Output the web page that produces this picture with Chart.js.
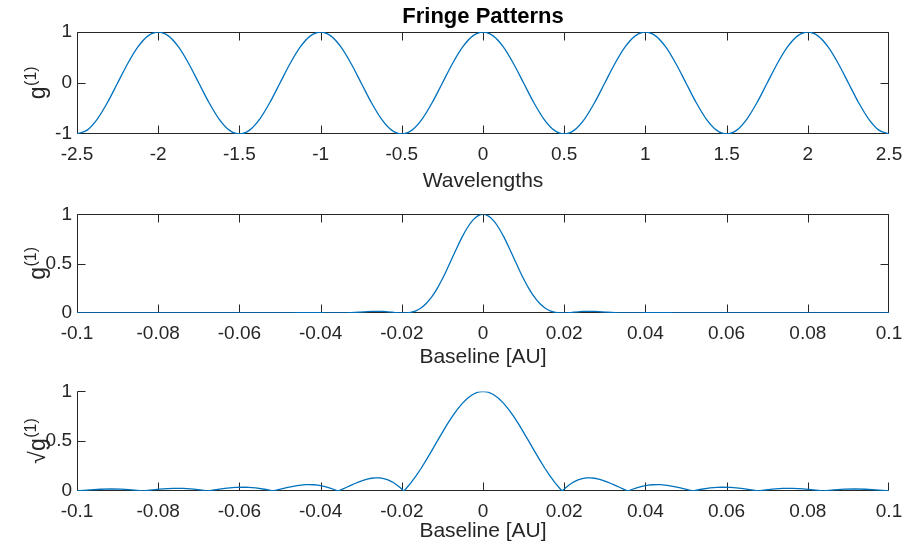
<!DOCTYPE html>
<html>
<head>
<meta charset="utf-8">
<script src="https://cdn.jsdelivr.net/npm/chart.js@4.4.1/dist/chart.umd.min.js"></script>
<style>
html, body { margin: 0; padding: 0; background: #ffffff; }
#wrap { position: relative; width: 906px; height: 550px; overflow: hidden; background: #ffffff; }
#wrap canvas { position: absolute; left: 0; }
</style>
</head>
<body>
<div id="wrap">
  <canvas id="c1" width="906" height="200" style="top:0px"></canvas>
  <canvas id="c2" width="906" height="177" style="top:198px"></canvas>
  <canvas id="c3" width="906" height="175" style="top:375px"></canvas>
</div>
<script>
// ---------- Data ----------
// Top panel: fringe pattern vs wavelengths
const wavelengths = [
  -2.5, -2.4375, -2.375, -2.3125, -2.25, -2.1875, -2.125, -2.0625,
  -2, -1.9375, -1.875, -1.8125, -1.75, -1.6875, -1.625, -1.5625,
  -1.5, -1.4375, -1.375, -1.3125, -1.25, -1.1875, -1.125, -1.0625,
  -1, -0.9375, -0.875, -0.8125, -0.75, -0.6875, -0.625, -0.5625,
  -0.5, -0.4375, -0.375, -0.3125, -0.25, -0.1875, -0.125, -0.0625,
  0, 0.0625, 0.125, 0.1875, 0.25, 0.3125, 0.375, 0.4375,
  0.5, 0.5625, 0.625, 0.6875, 0.75, 0.8125, 0.875, 0.9375,
  1, 1.0625, 1.125, 1.1875, 1.25, 1.3125, 1.375, 1.4375,
  1.5, 1.5625, 1.625, 1.6875, 1.75, 1.8125, 1.875, 1.9375,
  2, 2.0625, 2.125, 2.1875, 2.25, 2.3125, 2.375, 2.4375, 2.5
];
const fringeG1 = [
  -1, -0.9239, -0.7071, -0.3827, 0, 0.3827, 0.7071, 0.9239,
  1, 0.9239, 0.7071, 0.3827, 0, -0.3827, -0.7071, -0.9239,
  -1, -0.9239, -0.7071, -0.3827, 0, 0.3827, 0.7071, 0.9239,
  1, 0.9239, 0.7071, 0.3827, 0, -0.3827, -0.7071, -0.9239,
  -1, -0.9239, -0.7071, -0.3827, 0, 0.3827, 0.7071, 0.9239,
  1, 0.9239, 0.7071, 0.3827, 0, -0.3827, -0.7071, -0.9239,
  -1, -0.9239, -0.7071, -0.3827, 0, 0.3827, 0.7071, 0.9239,
  1, 0.9239, 0.7071, 0.3827, 0, -0.3827, -0.7071, -0.9239,
  -1, -0.9239, -0.7071, -0.3827, 0, 0.3827, 0.7071, 0.9239,
  1, 0.9239, 0.7071, 0.3827, 0, -0.3827, -0.7071, -0.9239, -1
];

// Middle and bottom panels: visibility vs baseline [AU]
const baselineAU = [
  -0.100000, -0.099827, -0.099237, -0.096692, -0.094148, -0.091603, -0.089059, -0.086514,
  -0.083820, -0.081425, -0.078880, -0.076336, -0.073791, -0.071247, -0.068702, -0.067805,
  -0.066158, -0.063613, -0.061069, -0.058524, -0.055980, -0.053435, -0.051774, -0.050891,
  -0.048346, -0.045802, -0.044784, -0.043766, -0.042748, -0.041730, -0.040712, -0.039695,
  -0.038677, -0.037659, -0.036641, -0.035703, -0.034606, -0.033588, -0.032570, -0.031552,
  -0.030534, -0.029517, -0.028499, -0.027481, -0.026463, -0.025445, -0.024427, -0.023410,
  -0.022392, -0.021374, -0.020356, -0.019500, -0.019084, -0.017812, -0.016539, -0.015267,
  -0.013995, -0.012723, -0.011450, -0.010178, -0.008906, -0.007634, -0.006361, -0.005089,
  -0.003817, -0.002545, -0.001272,
  0,
  0.001272, 0.002545, 0.003817, 0.005089, 0.006361, 0.007634, 0.008906, 0.010178,
  0.011450, 0.012723, 0.013995, 0.015267, 0.016539, 0.017812, 0.019084, 0.019500,
  0.020356, 0.021374, 0.022392, 0.023410, 0.024427, 0.025445, 0.026463, 0.027481,
  0.028499, 0.029517, 0.030534, 0.031552, 0.032570, 0.033588, 0.034606, 0.035703,
  0.036641, 0.037659, 0.038677, 0.039695, 0.040712, 0.041730, 0.042748, 0.043766,
  0.044784, 0.045802, 0.048346, 0.050891, 0.051774, 0.053435, 0.055980, 0.058524,
  0.061069, 0.063613, 0.066158, 0.067805, 0.068702, 0.071247, 0.073791, 0.076336,
  0.078880, 0.081425, 0.083820, 0.086514, 0.089059, 0.091603, 0.094148, 0.096692,
  0.099237, 0.099827, 0.100000
];
const visibilityG1 = [
  0.0000, 0, 0.0000, 0.0001, 0.0003, 0.0004, 0.0003, 0.0001,
  0, 0.0001, 0.0005, 0.0007, 0.0007, 0.0004, 0.0000, 0,
  0.0001, 0.0007, 0.0014, 0.0016, 0.0010, 0.0002, 0, 0.0001,
  0.0012, 0.0030, 0.0036, 0.0040, 0.0042, 0.0040, 0.0034, 0.0027,
  0.0018, 0.0009, 0.0002, 0, 0.0004, 0.0014, 0.0032, 0.0056,
  0.0085, 0.0115, 0.0143, 0.0164, 0.0174, 0.0172, 0.0155, 0.0124,
  0.0085, 0.0044, 0.0011, 0, 0.0003, 0.0062, 0.0220, 0.0511,
  0.0960, 0.1582, 0.2376, 0.3326, 0.4396, 0.5534, 0.6675, 0.7746,
  0.8674, 0.9391, 0.9845,
  1,
  0.9845, 0.9391, 0.8674, 0.7746, 0.6675, 0.5534, 0.4396, 0.3326,
  0.2376, 0.1582, 0.0960, 0.0511, 0.0220, 0.0062, 0.0003, 0,
  0.0011, 0.0044, 0.0085, 0.0124, 0.0155, 0.0172, 0.0174, 0.0164,
  0.0143, 0.0115, 0.0085, 0.0056, 0.0032, 0.0014, 0.0004, 0,
  0.0002, 0.0009, 0.0018, 0.0027, 0.0034, 0.0040, 0.0042, 0.0040,
  0.0036, 0.0030, 0.0012, 0.0001, 0, 0.0002, 0.0010, 0.0016,
  0.0014, 0.0007, 0.0001, 0, 0.0000, 0.0004, 0.0007, 0.0007,
  0.0005, 0.0001, 0, 0.0001, 0.0003, 0.0004, 0.0003, 0.0001,
  0.0000, 0, 0.0000
];
const sqrtG1 = [
  0.0009, 0, 0.0029, 0.0111, 0.0176, 0.0209, 0.0187, 0.0115,
  0, 0.0113, 0.0216, 0.0273, 0.0267, 0.0191, 0.0056, 0,
  0.0108, 0.0265, 0.0372, 0.0397, 0.0321, 0.0150, 0, 0.0087,
  0.0340, 0.0545, 0.0600, 0.0634, 0.0645, 0.0629, 0.0587, 0.0516,
  0.0419, 0.0296, 0.0151, 0, 0.0192, 0.0379, 0.0568, 0.0751,
  0.0922, 0.1072, 0.1194, 0.1279, 0.1320, 0.1310, 0.1244, 0.1116,
  0.0922, 0.0660, 0.0330, 0, 0.0177, 0.0785, 0.1484, 0.2260,
  0.3098, 0.3977, 0.4875, 0.5767, 0.6630, 0.7439, 0.8170, 0.8801,
  0.9313, 0.9691, 0.9922,
  1,
  0.9922, 0.9691, 0.9313, 0.8801, 0.8170, 0.7439, 0.6630, 0.5767,
  0.4875, 0.3977, 0.3098, 0.2260, 0.1484, 0.0785, 0.0177, 0,
  0.0330, 0.0660, 0.0922, 0.1116, 0.1244, 0.1310, 0.1320, 0.1279,
  0.1194, 0.1072, 0.0922, 0.0751, 0.0568, 0.0379, 0.0192, 0,
  0.0151, 0.0296, 0.0419, 0.0516, 0.0587, 0.0629, 0.0645, 0.0634,
  0.0600, 0.0545, 0.0340, 0.0087, 0, 0.0150, 0.0321, 0.0397,
  0.0372, 0.0265, 0.0108, 0, 0.0056, 0.0191, 0.0267, 0.0273,
  0.0216, 0.0113, 0, 0.0115, 0.0187, 0.0209, 0.0176, 0.0111,
  0.0029, 0, 0.0009
];

// Tick values and labels
const wavelengthTicks = [-2.5, -2, -1.5, -1, -0.5, 0, 0.5, 1, 1.5, 2, 2.5];
const wavelengthTickLabels = ['-2.5', '-2', '-1.5', '-1', '-0.5', '0', '0.5', '1', '1.5', '2', '2.5'];
const fringeYTicks = [-1, 0, 1];
const fringeYTickLabels = ['-1', '0', '1'];
const baselineTicks = [-0.1, -0.08, -0.06, -0.04, -0.02, 0, 0.02, 0.04, 0.06, 0.08, 0.1];
const baselineTickLabels = ['-0.1', '-0.08', '-0.06', '-0.04', '-0.02', '0', '0.02', '0.04', '0.06', '0.08', '0.1'];
const visYTicks = [0, 0.5, 1];
const visYTickLabels = ['0', '0.5', '1'];

// ---------- Styling ----------
const LINE = '#0072BD';
const AXIS = '#262626';
const FONT = '"Liberation Sans", Arial, Helvetica, sans-serif';
Chart.defaults.font.family = FONT;
Chart.defaults.color = AXIS;

// Axes box with inward tick marks (positions from the chart's own scales)
const frameTicks = {
  id: 'frameTicks',
  beforeDatasetsDraw(chart, args, opts) {
    const { ctx, chartArea: a } = chart;
    const xs = chart.scales.x, ys = chart.scales.y;
    const L = 8;
    const left = Math.round(a.left) + 0.5;
    const right = Math.round(a.right) - 0.5;
    const top = Math.round(a.top) + 0.5;
    const bottom = Math.round(a.bottom) - 0.5;
    ctx.save();
    ctx.strokeStyle = AXIS;
    ctx.lineWidth = 1;
    ctx.beginPath();
    ctx.moveTo(left, top); ctx.lineTo(left, bottom); ctx.lineTo(right, bottom);
    if (opts.box) { ctx.lineTo(right, top); ctx.lineTo(left, top); }
    xs.ticks.forEach(t => {
      const p = Math.min(right, Math.round(xs.getPixelForValue(t.value)) + 0.5);
      ctx.moveTo(p, bottom); ctx.lineTo(p, bottom - L);
      if (opts.box) { ctx.moveTo(p, top); ctx.lineTo(p, top + L); }
    });
    ys.ticks.forEach(t => {
      const p = Math.min(bottom, Math.round(ys.getPixelForValue(t.value)) + 0.5);
      ctx.moveTo(left, p); ctx.lineTo(left + L, p);
      if (opts.box) { ctx.moveTo(right, p); ctx.lineTo(right - L, p); }
    });
    ctx.stroke();
    ctx.restore();
  }
};

// Y-axis title with a superscript, e.g. g^(1)
const yTitleSup = {
  id: 'yTitleSup',
  afterDraw(chart, args, o) {
    if (!o || !o.base) return;
    const { ctx, chartArea: a } = chart;
    const cy = (a.top + a.bottom) / 2;
    ctx.save();
    ctx.translate(o.x, cy);
    ctx.rotate(-Math.PI / 2);
    ctx.fillStyle = AXIS;
    ctx.textBaseline = 'alphabetic';
    ctx.textAlign = 'left';
    const fBase = o.size + 'px ' + FONT;
    const fSup = o.supSize + 'px ' + FONT;
    ctx.font = fBase;
    const w1 = ctx.measureText(o.base).width;
    ctx.font = fSup;
    const w2 = ctx.measureText(o.sup).width;
    const x0 = -(w1 + w2) / 2;
    ctx.font = fBase;
    ctx.fillText(o.base, x0, 0);
    ctx.font = fSup;
    ctx.fillText(o.sup, x0 + w1 + 0.5, -o.raise);
    ctx.restore();
  }
};

function makeChart(id, c) {
  return new Chart(document.getElementById(id), {
    type: 'line',
    data: {
      datasets: [{
        data: c.xs.map((x, i) => ({ x: x, y: c.ys[i] })),
        borderColor: LINE,
        borderWidth: 1.3,
        pointRadius: 0,
        fill: false,
        tension: 0,
        cubicInterpolationMode: c.smooth ? 'monotone' : 'default'
      }]
    },
    options: {
      responsive: false,
      animation: false,
      devicePixelRatio: 1,
      layout: { padding: { left: 0, right: 17, top: c.padTop, bottom: 0 } },
      plugins: {
        legend: { display: false },
        tooltip: { enabled: false },
        title: c.title ? {
          display: true, text: c.title, fullSize: false, color: '#000000',
          font: { size: 22, weight: 'bold', lineHeight: 1.2 },
          padding: { top: 3.6, bottom: 2 }
        } : { display: false },
        frameTicks: { box: c.box },
        yTitleSup: { base: c.yTitleBase, sup: c.yTitleSup, x: 45, size: 23, supSize: 16, raise: 9 }
      },
      scales: {
        x: {
          type: 'linear', min: c.xMin, max: c.xMax,
          afterFit: s => { s.height = c.xH; },
          afterBuildTicks: s => { s.ticks = c.xTicks.map(v => ({ value: v })); },
          ticks: {
            callback: (v, i) => c.xLabels[i],
            padding: 0, maxRotation: 0, minRotation: 0, autoSkip: false,
            font: { size: 19, lineHeight: 2.15 }, color: AXIS
          },
          grid: { display: false, drawTicks: false },
          border: { display: false },
          title: { display: true, text: c.xTitle, color: AXIS, font: { size: 21, lineHeight: 1.2 }, padding: { top: 0, bottom: c.xTitlePad } }
        },
        y: {
          type: 'linear', min: c.yMin, max: c.yMax,
          afterFit: s => { s.width = 77; },
          afterBuildTicks: s => { s.ticks = c.yTicks.map(v => ({ value: v })); },
          ticks: {
            callback: (v, i) => c.yLabels[i],
            padding: 5, autoSkip: false,
            font: { size: 19 }, color: AXIS
          },
          grid: { display: false, drawTicks: false },
          border: { display: false },
          title: { display: false, text: c.yTitleBase + c.yTitleSup }
        }
      }
    },
    plugins: [frameTicks, yTitleSup]
  });
}

makeChart('c1', {
  xs: wavelengths, ys: fringeG1, smooth: true, box: true,
  title: 'Fringe Patterns', padTop: 0,
  xMin: -2.5, xMax: 2.5, xTicks: wavelengthTicks, xLabels: wavelengthTickLabels,
  yMin: -1, yMax: 1, yTicks: fringeYTicks, yLabels: fringeYTickLabels,
  xTitle: 'Wavelengths', yTitleBase: 'g', yTitleSup: '(1)', xH: 66, xTitlePad: 6.4
});
makeChart('c2', {
  xs: baselineAU, ys: visibilityG1, smooth: true, box: true,
  title: null, padTop: 13,
  xMin: -0.1, xMax: 0.1, xTicks: baselineTicks, xLabels: baselineTickLabels,
  yMin: 0, yMax: 1, yTicks: visYTicks, yLabels: visYTickLabels,
  xTitle: 'Baseline [AU]', yTitleBase: 'g', yTitleSup: '(1)', xH: 62, xTitlePad: 5.4
});
makeChart('c3', {
  xs: baselineAU, ys: sqrtG1, smooth: false, box: false,
  title: null, padTop: 14,
  xMin: -0.1, xMax: 0.1, xTicks: baselineTicks, xLabels: baselineTickLabels,
  yMin: 0, yMax: 1, yTicks: visYTicks, yLabels: visYTickLabels,
  xTitle: 'Baseline [AU]', yTitleBase: '√g', yTitleSup: '(1)', xH: 59, xTitlePad: 6.4
});
</script>
</body>
</html>
